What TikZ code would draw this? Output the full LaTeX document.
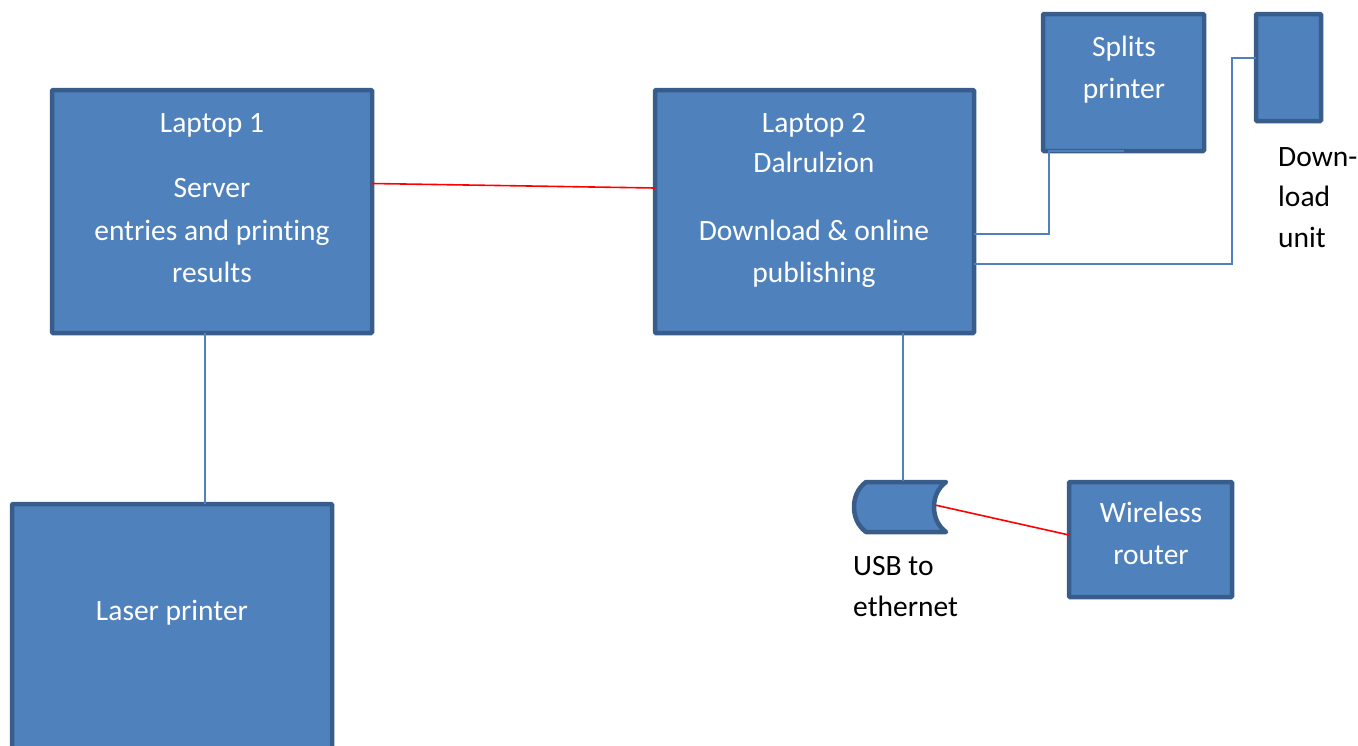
\documentclass[tikz,border=0pt]{standalone}
\usepackage{fontspec}
\setmainfont{Carlito}[Ligatures={NoCommon}]
\definecolor{boxfill}{HTML}{4F81BD}
\definecolor{boxline}{HTML}{385D8A}
\definecolor{wire}{HTML}{4F81BD}
\begin{document}
\begin{tikzpicture}[x=1pt,y=-1pt,
  box/.style={draw=boxline,fill=boxfill,line width=4.5pt,rounded corners=1pt,inner sep=0pt,outer sep=0pt},
  wtxt/.style={text=white,font=\fontsize{29.5}{34}\selectfont,inner sep=0pt,anchor=base},
  btxt/.style={text=black,font=\fontsize{29.5}{34}\selectfont,inner sep=0pt,anchor=base west},
  bluewire/.style={draw=wire,line width=2pt},
  redwire/.style={draw=red,line width=1.6pt}]
\useasboundingbox (0,0) rectangle (1358,745);
% boxes
\node[box,minimum width=320pt,minimum height=243pt] (l1) at (212,211.5) {};
\node[box,minimum width=319pt,minimum height=243pt] (l2) at (814.5,211.5) {};
\node[box,minimum width=161pt,minimum height=137pt] (sp) at (1123.5,82.5) {};
\node[box,minimum width=65pt,minimum height=107pt] (dl) at (1288.5,67.5) {};
\node[box,minimum width=320pt,minimum height=256pt] (lp) at (172,632) {};
\node[box,minimum width=163pt,minimum height=115pt] (wr) at (1150.5,539.5) {};
% USB cylinder
\draw[draw=boxline,fill=boxfill,line width=4.5pt,line join=round]
  (866,482) -- (946,482)
  .. controls (938,488) and (934,497) .. (934,507)
  .. controls (934,517) and (938,526) .. (946,532)
  -- (866,532)
  .. controls (858,526) and (854,517) .. (854,507)
  .. controls (854,497) and (858,488) .. (866,482) -- cycle;
\coordinate (usbtop) at (903,481);
\coordinate (usbright) at (935,505);
% texts
\node[wtxt] (t1a) at (212,132) {Laptop 1};
\node[wtxt] (t1b) at (212,197) {Server};
\node[wtxt] (t1c) at (212,240) {entries and printing};
\node[wtxt] (t1d) at (212,282) {results};
\node[wtxt] (t2a) at (814,132) {Laptop 2};
\node[wtxt] (t2b) at (814,172) {Dalrulzion};
\node[wtxt] (t2c) at (814,240) {Download \& online};
\node[wtxt] (t2d) at (814,282) {publishing};
\node[wtxt] (tsa) at (1124,56) {Splits};
\node[wtxt] (tsb) at (1124,98) {printer};
\node[wtxt] (tlp) at (172,620) {Laser printer};
\node[wtxt] (twa) at (1151,522) {Wireless};
\node[wtxt] (twb) at (1151,564) {router};
\node[btxt] (tda) at (1278,166) {Down-};
\node[btxt] (tdb) at (1278,206) {load};
\node[btxt] (tdc) at (1278,247) {unit};
\node[btxt] (tua) at (853,575) {USB to};
\node[btxt] (tub) at (853,616) {ethernet};
% connectors
\draw[redwire] ([yshift=28pt]l1.east) -- ([yshift=23.5pt]l2.west);
\draw[bluewire] ([xshift=-7pt]l1.south) -- ([xshift=-7pt]l1.south |- lp.north);
\draw[bluewire] ([xshift=88.5pt]l2.south) -- (usbtop);
\draw[redwire] (usbright) -- ([yshift=4.5pt]wr.west);
\draw[bluewire] ([yshift=-22.5pt]l2.east) -| ([xshift=-74.5pt]sp.south) -- (sp.south);
\draw[bluewire] ([yshift=-52.5pt]l2.east) -| ([xshift=-24pt,yshift=9.5pt]dl.west) -- ([yshift=9.5pt]dl.west);
\end{tikzpicture}
\end{document}
